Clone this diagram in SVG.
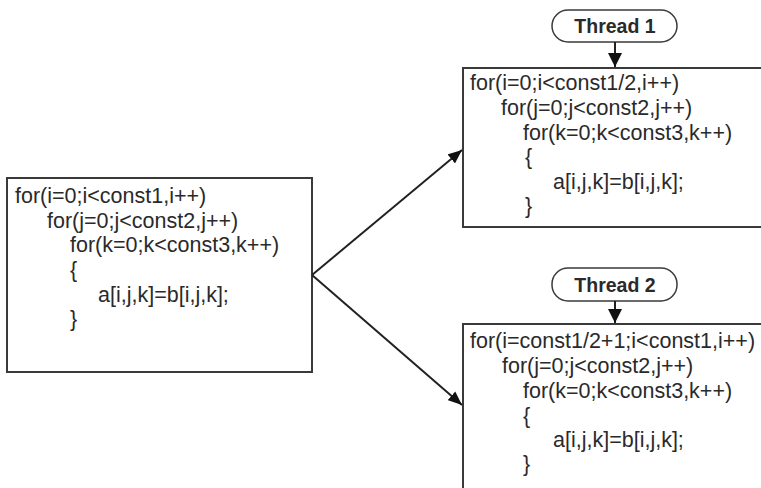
<svg xmlns="http://www.w3.org/2000/svg" width="761" height="488" viewBox="0 0 761 488">
  <style>
    .box { fill: #ffffff; stroke: #3a3a3a; stroke-width: 2; }
    .term { fill: #ffffff; stroke: #3a3a3a; stroke-width: 1.5; }
    .code { font-family: "Liberation Sans", Arial, sans-serif; font-size: 21.5px; fill: #2a2a2a; }
    .lbl { font-family: "Liberation Sans", Arial, sans-serif; font-size: 19.5px; font-weight: bold; fill: #2a2a2a; }
    .conn { stroke: #222222; stroke-width: 2; fill: none; }
  </style>
  <defs>
    <marker id="ah" viewBox="0 0 12 10" refX="12" refY="5" markerWidth="7" markerHeight="6" markerUnits="strokeWidth" orient="auto">
      <path d="M0,0 L12,5 L0,10 z" fill="#111111"/>
    </marker>
    <marker id="ahs" viewBox="0 0 10 10" refX="10" refY="5" markerWidth="8" markerHeight="7" markerUnits="strokeWidth" orient="auto">
      <path d="M0,0 L10,5 L0,10 z" fill="#111111"/>
    </marker>
  </defs>
  <rect width="761" height="488" fill="#ffffff"/>

  <g id="source">
    <rect class="box" x="7" y="178" width="305" height="194"/>
    <text class="code" x="15" y="203">for(i=0;i&lt;const1,i++)</text>
    <text class="code" x="47" y="228">for(j=0;j&lt;const2,j++)</text>
    <text class="code" x="70" y="252">for(k=0;k&lt;const3,k++)</text>
    <text class="code" x="70" y="277">{</text>
    <text class="code" x="98" y="302">a[i,j,k]=b[i,j,k];</text>
    <text class="code" x="70" y="326">}</text>
  </g>

  <g id="thread1">
    <rect class="term" x="552" y="10" width="125" height="32" rx="16" ry="16"/>
    <text class="lbl" x="615" y="33" text-anchor="middle">Thread 1</text>
  </g>

  <g id="loop1">
    <rect class="box" x="463" y="68" width="310" height="159"/>
    <text class="code" x="470" y="90">for(i=0;i&lt;const1/2,i++)</text>
    <text class="code" x="501" y="115">for(j=0;j&lt;const2,j++)</text>
    <text class="code" x="523" y="140">for(k=0;k&lt;const3,k++)</text>
    <text class="code" x="525" y="164">{</text>
    <text class="code" x="553" y="189">a[i,j,k]=b[i,j,k];</text>
    <text class="code" x="525" y="213">}</text>
  </g>

  <g id="thread2">
    <rect class="term" x="552" y="268" width="125" height="33" rx="16" ry="16"/>
    <text class="lbl" x="615" y="292" text-anchor="middle">Thread 2</text>
  </g>

  <g id="loop2">
    <rect class="box" x="463" y="324" width="310" height="180"/>
    <text class="code" x="470" y="348">for(i=const1/2+1;i&lt;const1,i++)</text>
    <text class="code" x="502" y="373">for(j=0;j&lt;const2,j++)</text>
    <text class="code" x="523" y="398">for(k=0;k&lt;const3,k++)</text>
    <text class="code" x="523" y="423">{</text>
    <text class="code" x="553" y="447">a[i,j,k]=b[i,j,k];</text>
    <text class="code" x="523" y="471">}</text>
  </g>

  <g id="connectors">
    <line class="conn" x1="312" y1="275" x2="462" y2="150" marker-end="url(#ah)"/>
    <line class="conn" x1="312" y1="275" x2="462" y2="405" marker-end="url(#ah)"/>
    <line class="conn" x1="615" y1="42" x2="615" y2="67" stroke-width="1.5" marker-end="url(#ahs)"/>
    <line class="conn" x1="615" y1="301" x2="615" y2="323" stroke-width="1.5" marker-end="url(#ahs)"/>
  </g>
</svg>
